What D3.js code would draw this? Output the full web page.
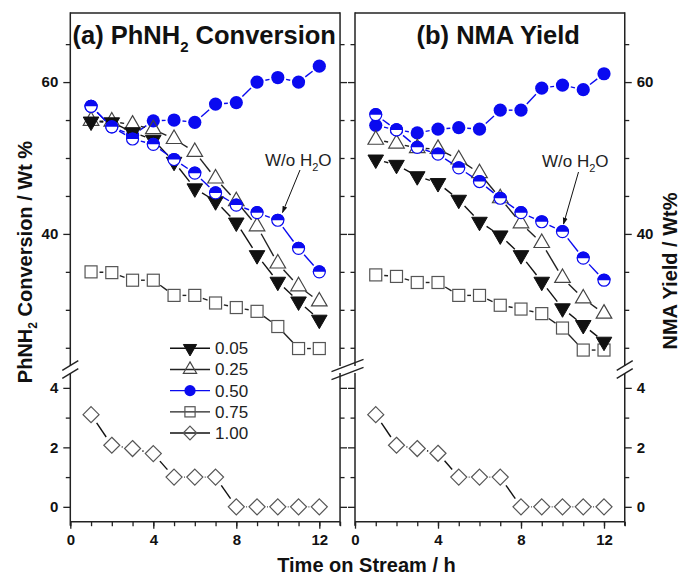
<!DOCTYPE html>
<html><head><meta charset="utf-8">
<script src="https://cdn.jsdelivr.net/npm/d3@7"></script>
<style>
body{margin:0;background:#fff}
svg{display:block}
text{font-family:"Liberation Sans",Arial,Helvetica,sans-serif}
</style></head>
<body><svg id="chart" width="681" height="575"></svg>
<script>
// ---------- data ----------
const hours = [1,2,3,4,5,6,7,8,9,10,11,12];
const legendLabels = ["0.05","0.25","0.50","0.75","1.00"];
const xTickMajor = [0,4,8,12];
const xTickMinor = [0,1,2,3,4,5,6,7,8,9,10,11,12,13];
const yUpperMajor = [40,60];
const yUpperMinor = [25,30,35,45,50,55,65];
const yLowerMajor = [0,2,4];
const yLowerMinor = [1,3];
const panelTitles = ["(a) PhNH", "(b) NMA Yield"];
const annotationText = "W/o H";

// (a) PhNH2 conversion, wt %
const conv005 = [54.8,54.7,53.4,52.4,49.5,46.0,44.3,41.5,37.2,33.7,31.1,28.7];
const conv025 = [54.9,54.8,54.4,53.8,52.5,50.8,47.3,44.3,41.0,36.1,33.1,31.1];
const conv050 = [56.8,54.1,53.0,54.9,55.0,54.7,57.1,57.3,60.0,60.6,60.0,62.1];
const conv075 = [35.0,34.9,33.9,33.9,31.9,31.9,30.9,30.3,29.8,27.8,24.9,24.9];
const conv100 = [3.1,2.07,1.96,1.79,1.0,1.0,1.0,0,0,0,0,0];
const convNoWater = [56.8,54.1,52.5,51.8,49.8,48.0,45.4,43.8,42.8,41.8,38.1,35.0];

// (b) NMA yield, wt %
const yield005 = [49.8,49.1,47.6,46.7,44.5,41.6,39.8,37.2,33.7,30.2,28.0,25.8];
const yield025 = [52.4,51.9,51.3,51.2,49.8,48.0,44.7,41.4,38.8,34.2,31.5,29.5];
const yield050 = [54.3,53.7,53.3,53.8,54.0,53.8,56.3,56.3,59.2,59.6,59.0,61.1];
const yield075 = [34.6,34.4,33.6,33.6,31.9,31.9,30.6,30.1,29.5,27.6,24.7,24.7];
const yield100 = [3.1,2.07,1.96,1.8,1.0,1.0,1.0,0,0,0,0,0];
const yieldNoWater = [55.7,53.7,51.4,50.5,48.7,46.9,44.7,42.8,41.6,40.3,36.8,33.9];

// ---------- layout ----------
const svg = d3.select("#chart");
const TOP = 13, AXIS_Y = 521.7, UP_BOTTOM = 366, LOW_TOP = 373;
const yU = d3.scaleLinear().domain([22.6, 69.1]).range([UP_BOTTOM, TOP]);
const yL = d3.scaleLinear().domain([-0.5, 4.5]).range([AXIS_Y, LOW_TOP]);
const BLUE = "#0a0af0", BLK = "#111", GREY = "#444";

const panels = [
  {x: d3.scaleLinear().domain([0,13]).range([70.3, 340.05]),
   s005: conv005, s025: conv025, s050: conv050, s075: conv075, s100: conv100, sNo: convNoWater,
   labelsLeft: true, labelsRight: false, legend: true,
   annText: [265, 165.5], arrow: [[300,170],[282.5,212.5]]},
  {x: d3.scaleLinear().domain([0,13]).range([355, 624.75]),
   s005: yield005, s025: yield025, s050: yield050, s075: yield075, s100: yield100, sNo: yieldNoWater,
   labelsLeft: false, labelsRight: true, legend: false,
   annText: [542, 166.5], arrow: [[578.5,172],[563.5,224]]}
];

// arrow marker
const defs = svg.append("defs");
defs.append("marker").attr("id","arr").attr("viewBox","0 0 10 10").attr("refX",9).attr("refY",5)
  .attr("markerWidth",7).attr("markerHeight",7).attr("orient","auto-start-reverse")
  .append("path").attr("d","M0,1.5 L10,5 L0,8.5 Z").attr("fill","#111");

function marker(g, type, x, y, k=1){
  if(type==="tdown"){
    g.append("path").attr("d", d3.symbol(d3.symbolTriangle, 105*k*k)())
      .attr("transform",`translate(${x},${y}) rotate(180)`).attr("fill",BLK).attr("stroke",BLK).attr("stroke-width",1);
  } else if(type==="tup"){
    g.append("path").attr("d", d3.symbol(d3.symbolTriangle, 105*k*k)())
      .attr("transform",`translate(${x},${y})`).attr("fill","none").attr("stroke",GREY).attr("stroke-width",1.2);
  } else if(type==="circle"){
    g.append("circle").attr("cx",x).attr("cy",y).attr("r",6.6*k).attr("fill",BLUE);
  } else if(type==="square"){
    const s = 12*k;
    g.append("rect").attr("x",x-s/2).attr("y",y-s/2).attr("width",s).attr("height",s)
      .attr("fill","none").attr("stroke","#555").attr("stroke-width",1.2);
  } else if(type==="diamond"){
    const r = 8*k;
    g.append("path").attr("d",`M${x},${y-r} L${x+r},${y} L${x},${y+r} L${x-r},${y} Z`)
      .attr("fill","none").attr("stroke","#555").attr("stroke-width",1.2);
  } else if(type==="half"){
    const r = 6.6*k;
    g.append("circle").attr("cx",x).attr("cy",y).attr("r",r-0.6).attr("fill","#fff").attr("stroke",BLUE).attr("stroke-width",1.2);
    g.append("path").attr("d",`M${x-r},${y} A${r},${r} 0 0 1 ${x+r},${y} Z`).attr("fill",BLUE);
  }
}

function series(g, xs, ys, vals, type, color, gap){
  const pts = hours.map((h,i)=>[xs(h), ys(vals[i])]);
  for(let i=0;i<pts.length-1;i++){
    const [x1,y1]=pts[i],[x2,y2]=pts[i+1];
    const dx=x2-x1, dy=y2-y1, d=Math.hypot(dx,dy);
    if(d>2*gap+0.5){
      const ux=dx/d, uy=dy/d;
      g.append("line").attr("x1",x1+ux*gap).attr("y1",y1+uy*gap)
        .attr("x2",x2-ux*gap).attr("y2",y2-uy*gap)
        .attr("stroke",color).attr("stroke-width",1.4);
    }
  }
  pts.forEach(p=>marker(g,type,p[0],p[1]));
}

panels.forEach(p=>{
  const g = svg.append("g");
  const x0 = p.x.range()[0], x1 = p.x.range()[1];

  g.append("g").attr("transform",`translate(0,${AXIS_Y})`)
    .call(d3.axisBottom(p.x).tickValues(xTickMinor).tickSize(4.5).tickFormat(""));
  g.append("g").attr("transform",`translate(0,${AXIS_Y})`)
    .call(d3.axisBottom(p.x).tickValues(xTickMajor).tickSize(7).tickPadding(6).tickFormat(d3.format("d")));

  const sides = [
    {x:x0, gen: d3.axisLeft, labels: p.labelsLeft},
    {x:x1, gen: d3.axisRight, labels: p.labelsRight}
  ];
  sides.forEach(sd=>{
    [[yU,yUpperMajor,yUpperMinor],[yL,yLowerMajor,yLowerMinor]].forEach(([sc,maj,min])=>{
      g.append("g").attr("transform",`translate(${sd.x},0)`)
        .call(sd.gen(sc).tickValues(min).tickSize(4.5).tickFormat(""));
      g.append("g").attr("transform",`translate(${sd.x},0)`)
        .call(sd.gen(sc).tickValues(maj).tickSize(7).tickPadding(sd.labels?5:3)
          .tickFormat(sd.labels? d3.format("d") : ""));
    });
  });
  g.selectAll(".domain").remove();
  g.selectAll(".tick line").attr("stroke","#222").attr("stroke-width",1.3);
  g.selectAll(".tick text").attr("fill","#111").style("font-size","15px").style("font-weight","bold")
    .style("font-family",'"Liberation Sans",Arial,sans-serif');

  const fr = g.append("g").attr("stroke","#222").attr("stroke-width",1.5).attr("fill","none");
  fr.append("line").attr("x1",x0).attr("x2",x1).attr("y1",TOP).attr("y2",TOP);
  fr.append("line").attr("x1",x0).attr("x2",x1).attr("y1",AXIS_Y).attr("y2",AXIS_Y);
  [x0,x1].forEach(xx=>{
    fr.append("line").attr("x1",xx).attr("x2",xx).attr("y1",TOP-0.7).attr("y2",UP_BOTTOM);
    fr.append("line").attr("x1",xx).attr("x2",xx).attr("y1",LOW_TOP).attr("y2",AXIS_Y+4);
  });

  const dg = g.append("g");
  series(dg, p.x, yU, p.s050, "circle", BLUE, 8.5);
  series(dg, p.x, yU, p.s075, "square", "#222", 8.5);
  series(dg, p.x, yU, p.s025, "tup", "#222", 8.5);
  series(dg, p.x, yU, p.s005, "tdown", "#111", 8.5);
  series(dg, p.x, yU, p.sNo, "half", BLUE, 8.5);
  series(dg, p.x, yL, p.s100, "diamond", "#111", 10);

  const t = g.append("text").attr("x",p.annText[0]).attr("y",p.annText[1])
    .style("font-size","17px").attr("fill","#222");
  t.append("tspan").text(annotationText);
  t.append("tspan").text("2").style("font-size","11px").attr("dy",5);
  t.append("tspan").text("O").attr("dy",-5);
  g.append("line").attr("x1",p.arrow[0][0]).attr("y1",p.arrow[0][1])
    .attr("x2",p.arrow[1][0]).attr("y2",p.arrow[1][1])
    .attr("stroke","#111").attr("stroke-width",1).attr("marker-end","url(#arr)");

  if(p.legend){
    const types = ["tdown","tup","circle","square","diamond"];
    const cols = ["#111","#222",BLUE,"#222","#111"];
    const ly = d3.scalePoint().domain(legendLabels).range([348.3, 433]);
    legendLabels.forEach((lab,i)=>{
      const y = ly(lab);
      g.append("line").attr("x1",170).attr("x2",210).attr("y1",y).attr("y2",y)
        .attr("stroke",cols[i]).attr("stroke-width",1.4);
      marker(g, types[i], 190, y, 0.85);
      g.append("text").attr("x",215).attr("y",y+6).text(lab)
        .style("font-size","17px").attr("fill","#222");
    });
  }
});

const bm = svg.append("g").attr("stroke","#222").attr("stroke-width",1.4);
function brk(cx, hw, slope){
  [UP_BOTTOM-0.5, LOW_TOP+0.5].forEach(yc=>{
    bm.append("line").attr("x1",cx-hw).attr("y1",yc+hw*slope).attr("x2",cx+hw).attr("y2",yc-hw*slope);
  });
}
brk(70.3, 8, 0.6);
brk(347.5, 16, 0.38);
brk(624.75, 8, 0.6);

const t1 = svg.append("text").attr("x",72.5).attr("y",43.5)
  .style("font-size","25.5px").style("font-weight","bold").attr("fill","#111");
t1.append("tspan").text(panelTitles[0]);
t1.append("tspan").text("2").style("font-size","15px").attr("dy",8);
t1.append("tspan").text(" Conversion").attr("dy",-8);
svg.append("text").attr("x",416.5).attr("y",43.5).text(panelTitles[1])
  .style("font-size","25.5px").style("font-weight","bold").attr("fill","#111");

svg.append("text").attr("x",366.5).attr("y",572).attr("text-anchor","middle")
  .text("Time on Stream / h").style("font-size","20px").style("font-weight","bold").attr("fill","#111");

const yl = svg.append("text").attr("transform","translate(32,262) rotate(-90)").attr("text-anchor","middle")
  .style("font-size","20px").style("font-weight","bold").attr("fill","#111");
yl.append("tspan").text("PhNH");
yl.append("tspan").text("2").style("font-size","12px").attr("dy",5);
yl.append("tspan").text(" Conversion / Wt %").attr("dy",-5);

svg.append("text").attr("transform","translate(677,271) rotate(-90)").attr("text-anchor","middle")
  .text("NMA Yield / Wt%").style("font-size","20px").style("font-weight","bold").attr("fill","#111");
</script></body></html>
